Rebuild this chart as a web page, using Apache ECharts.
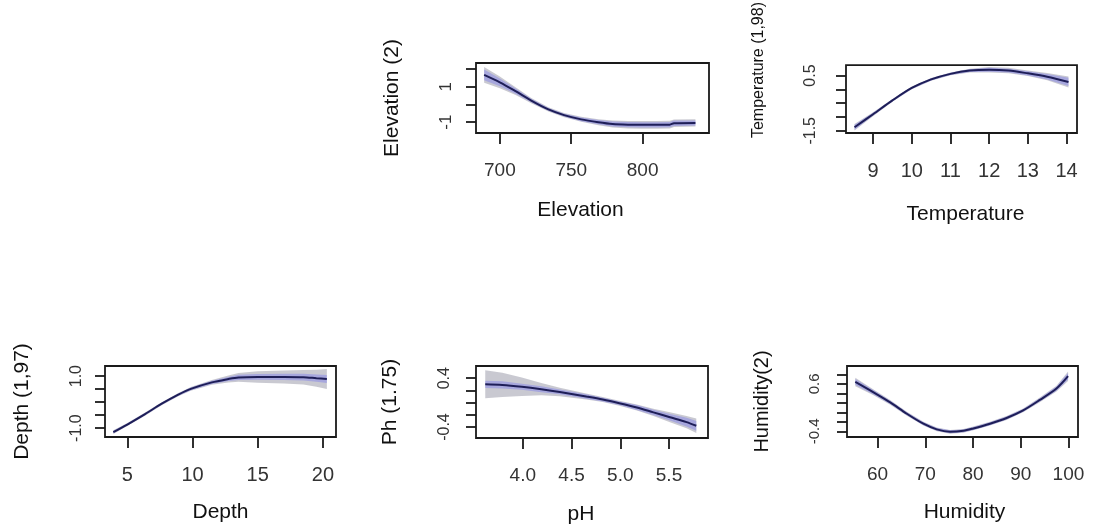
<!DOCTYPE html>
<html>
<head>
<meta charset="utf-8">
<script src="https://cdn.jsdelivr.net/npm/echarts@6/dist/echarts.min.js"></script>
<style>
  html, body { margin: 0; padding: 0; background: #ffffff; }
  #chart { width: 1095px; height: 531px; }
</style>
</head>
<body>
<div id="chart"></div>
<script>
// partial effect plots (fitted smooth + confidence bands)

const ELEV_X = [689, 700, 711, 722, 734, 745, 757, 769, 779, 790, 800, 810, 819, 822, 837]
const ELEV_FIT = [1.67, 1.25, 0.75, 0.22, -0.28, -0.6, -0.84, -1.0, -1.1, -1.14, -1.15, -1.15, -1.14, -1.06, -1.04]
const ELEV_SE_OUT = [0.45, 0.33, 0.22, 0.15, 0.12, 0.12, 0.14, 0.17, 0.2, 0.21, 0.22, 0.22, 0.22, 0.21, 0.2]
const ELEV_SE_IN = [0.3, 0.22, 0.15, 0.1, 0.08, 0.08, 0.1, 0.12, 0.14, 0.15, 0.15, 0.15, 0.15, 0.15, 0.14]
const ELEV_XTICKS = [700, 750, 800]
const ELEV_YTICKS = [-1, 0, 1, 2]
const ELEV_YLABELS = [-1, 1]

const TEMP_X = [8.52, 9.0, 9.5, 10.0, 10.5, 11.0, 11.5, 12.0, 12.5, 13.0, 13.5, 14.05]
const TEMP_FIT = [-1.37, -0.9, -0.4, 0.05, 0.36, 0.56, 0.68, 0.71, 0.68, 0.58, 0.46, 0.27]
const TEMP_SE_OUT = [0.12, 0.07, 0.05, 0.05, 0.05, 0.05, 0.07, 0.1, 0.1, 0.1, 0.13, 0.2]
const TEMP_SE_IN = [0.09, 0.05, 0.04, 0.04, 0.04, 0.04, 0.05, 0.07, 0.07, 0.08, 0.1, 0.15]
const TEMP_XTICKS = [9, 10, 11, 12, 13, 14]
const TEMP_YTICKS = [-1.5, -1, -0.5, 0, 0.5]
const TEMP_YLABELS = [-1.5, 0.5]

const DEPTH_X = [3.93, 5, 6.36, 7.64, 8.91, 9.87, 11.48, 12.75, 13.52, 15, 17, 18.5, 19.5, 20.3]
const DEPTH_FIT = [-1.15, -0.86, -0.46, -0.06, 0.29, 0.51, 0.76, 0.89, 0.95, 0.97, 0.97, 0.96, 0.92, 0.89]
const DEPTH_SE_OUT = [0.07, 0.06, 0.06, 0.06, 0.06, 0.07, 0.09, 0.13, 0.17, 0.22, 0.25, 0.28, 0.33, 0.38]
const DEPTH_SE_IN = [0.05, 0.04, 0.04, 0.04, 0.04, 0.05, 0.06, 0.08, 0.1, 0.11, 0.12, 0.13, 0.14, 0.15]
const DEPTH_XTICKS = [5, 10, 15, 20]
const DEPTH_YTICKS = [-1, -0.5, 0, 0.5, 1]
const DEPTH_YLABELS = [-1, 1]

const PH_X = [3.615, 3.79, 3.99, 4.19, 4.38, 4.65, 4.82, 4.99, 5.17, 5.34, 5.51, 5.68, 5.78]
const PH_FIT = [0.3, 0.29, 0.26, 0.22, 0.175, 0.1, 0.05, -0.01, -0.08, -0.16, -0.24, -0.32, -0.38]
const PH_SE_OUT = [0.23, 0.2, 0.15, 0.1, 0.07, 0.05, 0.04, 0.04, 0.05, 0.06, 0.08, 0.1, 0.12]
const PH_SE_IN = [0.06, 0.06, 0.05, 0.05, 0.04, 0.035, 0.03, 0.03, 0.04, 0.045, 0.055, 0.07, 0.08]
const PH_XTICKS = [4.0, 4.5, 5.0, 5.5]
const PH_YTICKS = [-0.4, -0.2, 0, 0.2, 0.4]
const PH_YLABELS = [-0.4, 0.4]

const HUM_X = [55.34, 59.16, 62.65, 66.14, 69.61, 72.41, 75.19, 77.97, 80.06, 83.55, 87.04, 90.51, 94.0, 97.49, 99.92]
const HUM_FIT = [0.64, 0.42, 0.21, -0.03, -0.24, -0.36, -0.41, -0.39, -0.34, -0.24, -0.12, 0.04, 0.26, 0.5, 0.76]
const HUM_SE_OUT = [0.09, 0.06, 0.05, 0.04, 0.04, 0.04, 0.04, 0.04, 0.04, 0.04, 0.04, 0.04, 0.05, 0.06, 0.1]
const HUM_SE_IN = [0.06, 0.045, 0.035, 0.03, 0.03, 0.03, 0.03, 0.03, 0.03, 0.03, 0.03, 0.03, 0.035, 0.045, 0.07]
const HUM_XTICKS = [60, 70, 80, 90, 100]
const HUM_YTICKS = [-0.4, -0.2, 0, 0.2, 0.4, 0.6, 0.8]
const HUM_YLABELS = [-0.4, 0.6]

const LINE_COLOR = '#1e1e58'
const OUTER_BAND = 'rgba(188, 188, 198, 0.8)'
const INNER_BAND = 'rgba(138, 138, 232, 0.55)'
const FONT = 'Liberation Sans, Arial, sans-serif'

const PANELS = [
  {
    x: ELEV_X, fit: ELEV_FIT, seOut: ELEV_SE_OUT, seIn: ELEV_SE_IN,
    xTicks: ELEV_XTICKS, yTicks: ELEV_YTICKS, yLabels: ELEV_YLABELS,
    xName: 'Elevation', yName: 'Elevation (2)',
    box: { left: 476, top: 63, width: 233, height: 70 },
    xMin: 683.3, xMax: 846.5, yMin: -1.61, yMax: 2.34,
    xDigits: 0, yDigits: 0, xNameGap: 66, xNameShift: 24, yNameGap: 73,
    yNameSize: 21, yNameShift: 0, yLabelGap: 21, yLabelSize: 17, xLabelSize: 19,
  },
  {
    x: TEMP_X, fit: TEMP_FIT, seOut: TEMP_SE_OUT, seIn: TEMP_SE_IN,
    xTicks: TEMP_XTICKS, yTicks: TEMP_YTICKS, yLabels: TEMP_YLABELS,
    xName: 'Temperature', yName: 'Temperature (1,98)',
    box: { left: 846, top: 62, width: 231, height: 71 },
    xMin: 8.3, xMax: 14.27, yMin: -1.58, yMax: 0.88,
    xDigits: 0, yDigits: 1, xNameGap: 70, xNameShift: -8, yNameGap: 79,
    yNameSize: 16, yNameShift: 58, yLabelGap: 27, yLabelSize: 16, xLabelSize: 20,
  },
  {
    x: DEPTH_X, fit: DEPTH_FIT, seOut: DEPTH_SE_OUT, seIn: DEPTH_SE_IN,
    xTicks: DEPTH_XTICKS, yTicks: DEPTH_YTICKS, yLabels: DEPTH_YLABELS,
    xName: 'Depth', yName: 'Depth (1,97)',
    box: { left: 105, top: 366, width: 231, height: 71 },
    xMin: 3.29, xMax: 21.0, yMin: -1.34, yMax: 1.39,
    xDigits: 0, yDigits: 1, xNameGap: 64, xNameShift: 0, yNameGap: 72,
    yNameSize: 21, yNameShift: 0, yLabelGap: 20, yLabelSize: 16, xLabelSize: 20,
  },
  {
    x: PH_X, fit: PH_FIT, seOut: PH_SE_OUT, seIn: PH_SE_IN,
    xTicks: PH_XTICKS, yTicks: PH_YTICKS, yLabels: PH_YLABELS,
    xName: 'pH', yName: 'Ph (1.75)',
    box: { left: 476, top: 366, width: 232, height: 72 },
    xMin: 3.52, xMax: 5.9, yMin: -0.58, yMax: 0.6,
    xDigits: 1, yDigits: 1, xNameGap: 65, xNameShift: 22, yNameGap: 75,
    yNameSize: 21, yNameShift: 0, yLabelGap: 23, yLabelSize: 16, xLabelSize: 19,
  },
  {
    x: HUM_X, fit: HUM_FIT, seOut: HUM_SE_OUT, seIn: HUM_SE_IN,
    xTicks: HUM_XTICKS, yTicks: HUM_YTICKS, yLabels: HUM_YLABELS,
    xName: 'Humidity', yName: 'Humidity(2)',
    box: { left: 847, top: 366, width: 231, height: 71 },
    xMin: 53.6, xMax: 102.0, yMin: -0.52, yMax: 0.975,
    xDigits: 0, yDigits: 1, xNameGap: 64, xNameShift: -4, yNameGap: 75,
    yNameSize: 20, yNameShift: 0, yLabelGap: 25, yLabelSize: 15, xLabelSize: 19,
  },
]

// confidence band as one closed polygon, projected through the panel's axes
function bandSeries(index, panel, halfWidths, color) {
  const data = panel.x.map((x, k) => [x, panel.fit[k] - halfWidths[k], panel.fit[k] + halfWidths[k]])
  return {
    type: 'custom',
    xAxisIndex: index,
    yAxisIndex: index,
    silent: true,
    data,
    encode: { x: 0, y: [1, 2] },
    renderItem: (params, api) => {
      if (params.dataIndex !== 0) {
        return null
      }
      const upper = data.map((d) => api.coord([d[0], d[2]]))
      const lower = data.map((d) => api.coord([d[0], d[1]])).reverse()
      const cs = params.coordSys
      return {
        type: 'polygon',
        shape: { points: upper.concat(lower) },
        style: { fill: color },
        clipPath: { type: 'rect', shape: { x: cs.x, y: cs.y, width: cs.width, height: cs.height } },
      }
    },
  }
}

const grids = []
const xAxes = []
const yAxes = []
const series = []

PANELS.forEach((panel, i) => {
  grids.push({
    ...panel.box,
    show: true,
    borderColor: '#1a1a1a',
    borderWidth: 1.8,
    backgroundColor: 'transparent',
  })

  xAxes.push({
    type: 'value',
    gridIndex: i,
    min: panel.xMin,
    max: panel.xMax,
    offset: 1,
    axisLine: { show: false, onZero: false },
    splitLine: { show: false },
    axisTick: {
      show: true,
      length: 10,
      customValues: panel.xTicks,
      lineStyle: { color: '#1a1a1a', width: 1.8 },
    },
    axisLabel: {
      customValues: panel.xTicks,
      margin: 27,
      color: '#333333',
      fontSize: panel.xLabelSize,
      fontFamily: FONT,
      formatter: (v) => Number(v).toFixed(panel.xDigits),
    },
    name: panel.xName,
    nameLocation: 'middle',
    nameGap: panel.xNameGap,
    nameTextStyle: {
      color: '#111111',
      fontSize: 21,
      fontFamily: FONT,
      padding: panel.xNameShift >= 0 ? [0, panel.xNameShift, 0, 0] : [0, 0, 0, -panel.xNameShift],
    },
  })

  yAxes.push({
    type: 'value',
    gridIndex: i,
    min: panel.yMin,
    max: panel.yMax,
    axisLine: { show: false, onZero: false },
    splitLine: { show: false },
    axisTick: {
      show: true,
      length: 10,
      customValues: panel.yTicks,
      lineStyle: { color: '#1a1a1a', width: 1.8 },
    },
    axisLabel: {
      customValues: panel.yLabels,
      rotate: 90,
      margin: panel.yLabelGap,
      color: '#333333',
      fontSize: panel.yLabelSize,
      fontFamily: FONT,
      formatter: (v) => Number(v).toFixed(panel.yDigits),
    },
    name: panel.yName,
    nameLocation: 'middle',
    nameGap: panel.yNameGap,
    nameTextStyle: {
      color: '#111111',
      fontSize: panel.yNameSize,
      fontFamily: FONT,
      padding: [0, 0, 0, panel.yNameShift],
    },
  })

  series.push(bandSeries(i, panel, panel.seOut, OUTER_BAND))
  series.push(bandSeries(i, panel, panel.seIn, INNER_BAND))
  series.push({
    type: 'line',
    xAxisIndex: i,
    yAxisIndex: i,
    data: panel.x.map((x, k) => [x, panel.fit[k]]),
    symbol: 'none',
    smooth: 0.3,
    silent: true,
    lineStyle: { color: LINE_COLOR, width: 2 },
  })
})

const chart = echarts.init(document.getElementById('chart'), null, { renderer: 'canvas' })
chart.setOption({
  animation: false,
  backgroundColor: '#ffffff',
  grid: grids,
  xAxis: xAxes,
  yAxis: yAxes,
  series,
})
</script>
</body>
</html>
